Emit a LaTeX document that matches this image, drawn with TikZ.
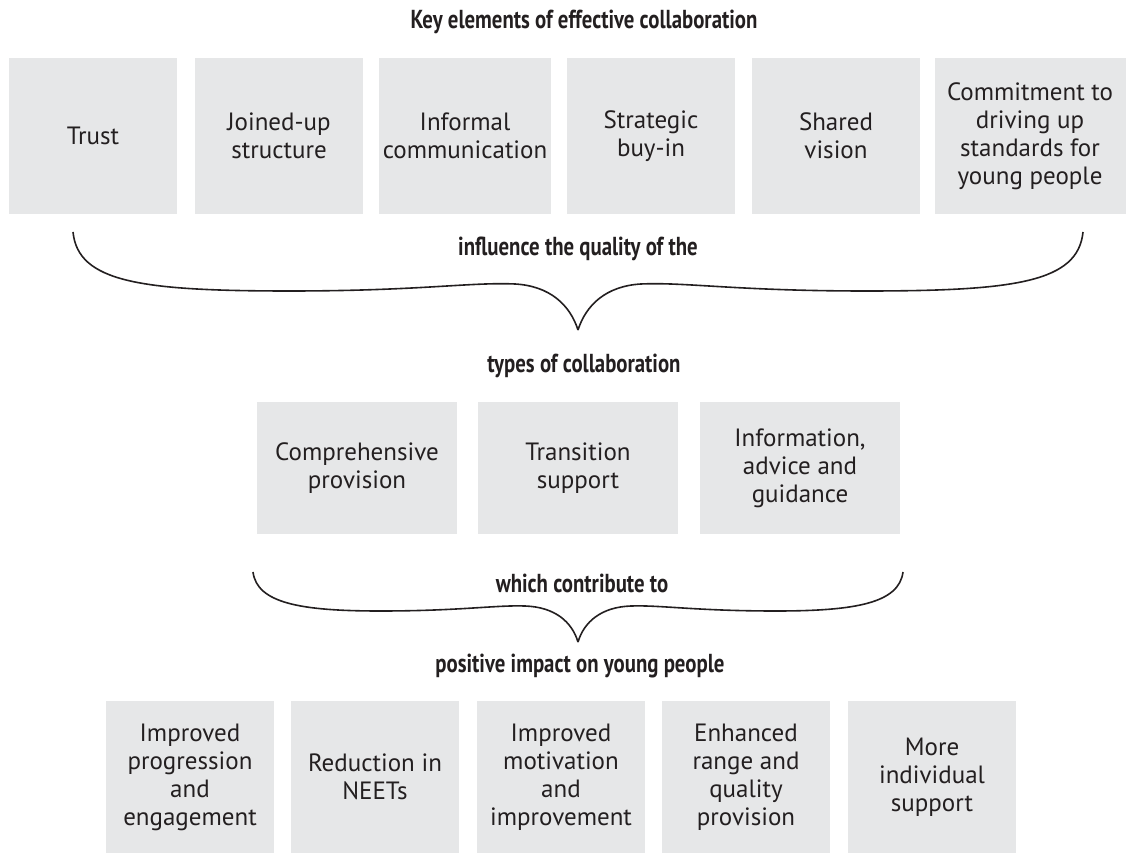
\documentclass[tikz,border=0pt]{standalone}
\usepackage{fontspec}
\setmainfont{PT Sans}
\newfontfamily\headfont[FakeStretch=0.8]{PT Sans}
\definecolor{boxgrey}{HTML}{E6E7E8}
\definecolor{inkgrey}{HTML}{231F20}

\begin{document}
\begin{tikzpicture}[x=0.5pt, y=-0.5pt,
  every node/.style={font=\fontsize{12.5}{14}\selectfont, text=inkgrey},
  box/.style={fill=boxgrey, minimum width=84pt, minimum height=78pt, align=center, inner sep=2pt},
  midbox/.style={box, minimum width=100pt, minimum height=66pt},
  lowbox/.style={box, minimum height=76pt},
  heading/.style={font=\fontsize{13}{14}\headfont\bfseries},
  brace/.style={draw=inkgrey, line width=0.8pt}]

\useasboundingbox (0,0) rectangle (1134,854);

% Key elements
\node[heading] (keyhead) at (584,22) {Key elements of effective collaboration};
\node[box] (trust) at (93,136) {Trust};
\node[box] (joined) at (279,136) {Joined-up\\structure};
\node[box] (informal) at (465,136) {Informal\\communication};
\node[box] (buyin) at (651,136) {Strategic\\buy-in};
\node[box] (vision) at (836,136) {Shared\\vision};
\node[box, minimum width=95.5pt] (commit) at (1030,136) {Commitment to\\driving up\\standards for\\young people};

% First brace
\draw[brace] (73,232) .. controls (78,282) and (140,291) .. (290,291)
  .. controls (420,291) and (470,282) .. (515,284)
  .. controls (550,286) and (570,305) .. (578,330);
\draw[brace] (1083,232) .. controls (1078,282) and (1016,291) .. (866,291)
  .. controls (736,291) and (686,282) .. (641,284)
  .. controls (606,286) and (586,305) .. (578,330);
\node[heading] (influence) at (578,249) {influence the quality of the};

% Types of collaboration
\node[heading] (typeshead) at (584,366) {types of collaboration};
\node[midbox] (comp) at (357,468) {Comprehensive\\provision};
\node[midbox] (trans) at (578,468) {Transition\\support};
\node[midbox] (iag) at (800,468) {Information,\\advice and\\guidance};

% Second brace
\draw[brace] (253,572) .. controls (257,603) and (300,611) .. (380,611)
  .. controls (460,611) and (495,605) .. (525,606)
  .. controls (555,607) and (572,622) .. (578,642);
\draw[brace] (903,572) .. controls (899,603) and (856,611) .. (776,611)
  .. controls (696,611) and (661,605) .. (631,606)
  .. controls (601,607) and (584,622) .. (578,642);
\node[heading] (contrib) at (582,583) {which contribute to};

% Impact
\node[heading] (impacthead) at (580,666) {positive impact on young people};
\node[lowbox] (progress) at (190,777) {Improved\\progression\\and\\engagement};
\node[lowbox] (neets) at (375,777) {Reduction in\\NEETs};
\node[lowbox] (motiv) at (561,777) {Improved\\motivation\\and\\improvement};
\node[lowbox] (range) at (746,777) {Enhanced\\range and\\quality\\provision};
\node[lowbox] (indiv) at (932,777) {More\\individual\\support};
\end{tikzpicture}
\end{document}
